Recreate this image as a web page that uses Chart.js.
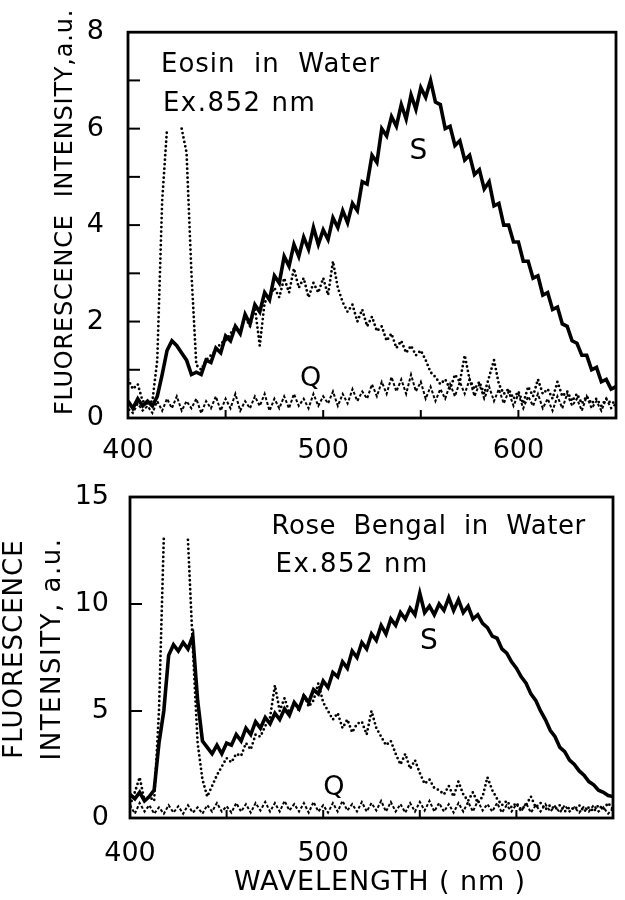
<!DOCTYPE html>
<html>
<head>
<meta charset="utf-8">
<script src="https://cdn.jsdelivr.net/npm/chart.js@4.4.0/dist/chart.umd.min.js"></script>
<style>
  html, body { margin: 0; padding: 0; background: #fff; }
  #wrap { position: relative; width: 625px; height: 900px; }
  canvas { position: absolute; left: 0; }
  #eosin { top: 0; }
  #rose { top: 460px; }
</style>
</head>
<body>
<div id="wrap">
  <canvas id="eosin" width="625" height="460"></canvas>
  <canvas id="rose" width="625" height="440"></canvas>
</div>
<script>
const WL_START = 400;
const WL_STEP = 2.5;
const WL_COUNT = 101;
const WAVELENGTHS = Array.from({ length: WL_COUNT }, (_, i) => WL_START + i * WL_STEP);

// Eosin in water, Ex. 852 nm
const EOSIN_S = [
  0.35, 0.2, 0.4, 0.25, 0.35, 0.25, 0.45, 0.9, 1.4, 1.6,
  1.5, 1.35, 1.2, 0.9, 0.95, 0.9, 1.2, 1.15, 1.45, 1.35,
  1.7, 1.6, 1.9, 1.75, 2.15, 1.95, 2.35, 2.2, 2.6, 2.45,
  2.95, 2.8, 3.35, 3.15, 3.6, 3.35, 3.75, 3.5, 3.95, 3.6,
  3.9, 3.7, 4.15, 3.95, 4.3, 4.05, 4.45, 4.3, 4.9, 4.85,
  5.45, 5.3, 6.0, 5.85, 6.25, 6.05, 6.5, 6.2, 6.7, 6.4,
  6.85, 6.65, 7.0, 6.55, 6.5, 6.0, 6.05, 5.65, 5.75, 5.35,
  5.45, 5.05, 5.15, 4.75, 4.9, 4.4, 4.45, 4.0, 4.0, 3.65,
  3.65, 3.25, 3.25, 2.9, 2.95, 2.55, 2.6, 2.25, 2.3, 1.95,
  1.9, 1.6, 1.55, 1.3, 1.3, 1.0, 1.05, 0.75, 0.8, 0.6,
  0.65
];
const EOSIN_DOT = [
  0.8, 0.6, 0.7, 0.35, 0.3, 0.35, 1.2, 4.5, 6.0, null,
  null, 6.0, 5.5, 3.0, 1.1, 1.0, 1.2, 1.3, 1.4, 1.55,
  1.6, 1.75, 1.9, 1.8, 2.1, 1.9, 2.3, 1.5, 2.4, 2.5,
  2.7, 2.5, 2.9, 2.6, 3.1, 2.7, 2.9, 2.5, 2.8, 2.6,
  2.9, 2.55, 3.25, 2.7, 2.4, 2.2, 2.35, 2.0, 2.25, 1.9,
  2.1, 1.8, 1.9, 1.6, 1.75, 1.45, 1.6, 1.35, 1.5, 1.3,
  1.4, 1.2, 0.95, 0.85, 0.7, 0.8, 0.6, 0.9, 0.75, 1.3,
  0.8, 0.6, 0.75, 0.5, 0.85, 1.2, 0.7, 0.5, 0.6, 0.4,
  0.55, 0.3, 0.65, 0.45, 0.8, 0.5, 0.6, 0.4, 0.75, 0.45,
  0.55, 0.35, 0.5, 0.3, 0.45, 0.3, 0.4, 0.25, 0.4, 0.3,
  0.35
];
const EOSIN_Q = [
  0.2, 0.1, 0.3, 0.15, 0.25, 0.1, 0.35, 0.15, 0.4, 0.2,
  0.45, 0.15, 0.35, 0.2, 0.4, 0.1, 0.35, 0.2, 0.45, 0.15,
  0.4, 0.2, 0.5, 0.15, 0.35, 0.2, 0.45, 0.25, 0.5, 0.15,
  0.4, 0.2, 0.45, 0.2, 0.5, 0.25, 0.4, 0.2, 0.5, 0.25,
  0.45, 0.3, 0.55, 0.25, 0.5, 0.3, 0.6, 0.35, 0.55, 0.4,
  0.7, 0.45, 0.75, 0.5, 0.85, 0.55, 0.8, 0.5, 0.9, 0.55,
  0.75, 0.4, 0.65, 0.35, 0.6, 0.4, 0.7, 0.45, 0.75, 0.5,
  0.8, 0.45, 0.7, 0.4, 0.65, 0.35, 0.6, 0.3, 0.55, 0.25,
  0.5, 0.2, 0.45, 0.25, 0.5, 0.2, 0.4, 0.15, 0.45, 0.2,
  0.5, 0.25, 0.4, 0.15, 0.45, 0.2, 0.35, 0.15, 0.4, 0.2,
  0.3
];

// Rose Bengal in water, Ex. 852 nm
const ROSE_S = [
  1.1, 0.9, 1.2, 0.8, 1.0, 1.3, 3.5, 5.0, 7.6, 8.1,
  7.8, 8.2, 7.9, 8.5, 5.5, 3.6, 3.3, 3.0, 3.4, 3.0,
  3.5, 3.4, 3.9, 3.6, 4.2, 3.9, 4.5, 4.2, 4.7, 4.4,
  4.9, 4.6, 5.1, 4.8, 5.4, 5.1, 5.7, 5.4, 6.0, 5.8,
  6.4, 6.1, 6.8, 6.6, 7.3, 7.0, 7.8, 7.5, 8.2, 7.9,
  8.6, 8.3, 9.0, 8.6, 9.3, 9.0, 9.6, 9.3, 9.8, 9.5,
  10.5, 9.6, 9.9, 9.5, 10.0, 9.7, 10.3, 9.7, 10.2, 9.6,
  9.9, 9.3, 9.5, 9.1, 8.9, 8.5, 8.4, 7.9, 7.7, 7.3,
  7.0, 6.6, 6.3, 5.8, 5.5, 5.0, 4.6, 4.1, 3.8, 3.3,
  3.1, 2.7, 2.5, 2.2, 2.0, 1.7, 1.55, 1.3, 1.2, 1.05,
  1.0
];
const ROSE_DOT = [
  0.6, 1.2, 1.9, 0.8, 1.0, 0.8, 5.0, 13.1, null, null,
  null, null, 13.0, 8.0, 3.5, 1.8, 1.0, 1.5, 2.0, 2.4,
  2.8, 2.6, 3.0, 2.9, 3.5, 3.2, 3.9, 3.8, 4.3, 4.7,
  6.2, 5.0, 5.6, 4.9, 5.4, 5.0, 5.8, 5.2, 5.5, 6.3,
  5.4, 5.0, 4.6, 4.9, 4.2, 4.6, 4.0, 4.4, 4.5, 3.9,
  5.0, 4.2, 3.8, 3.4, 3.6, 3.0, 2.5, 3.0, 2.3, 2.7,
  2.1, 1.6, 1.8, 1.4, 1.3, 1.1, 1.5, 1.0, 1.7, 1.1,
  0.8, 1.2, 0.7, 1.0, 1.9, 1.3, 0.9, 0.6, 0.8, 0.5,
  0.7, 0.4, 0.6, 1.0, 0.5, 0.7, 0.4, 0.6, 0.4, 0.6,
  0.3, 0.5, 0.4, 0.6, 0.3, 0.5, 0.3, 0.6, 0.4, 0.7,
  0.4
];
const ROSE_Q = [
  0.6, 0.2, 0.7, 0.3, 0.6, 0.2, 0.5, 0.2, 0.6, 0.25,
  0.55, 0.2, 0.6, 0.25, 0.5, 0.2, 0.6, 0.3, 0.7, 0.3,
  0.55, 0.25, 0.7, 0.3, 0.65, 0.25, 0.7, 0.35, 0.75, 0.3,
  0.7, 0.3, 0.8, 0.35, 0.65, 0.3, 0.7, 0.25, 0.75, 0.3,
  0.6, 0.25, 0.7, 0.3, 0.8, 0.35, 0.65, 0.3, 0.75, 0.3,
  0.7, 0.35, 0.8, 0.3, 0.75, 0.3, 0.65, 0.25, 0.7, 0.3,
  0.75, 0.35, 0.8, 0.3, 0.7, 0.3, 0.65, 0.25, 0.7, 0.3,
  0.75, 0.3, 0.8, 0.35, 0.65, 0.3, 0.7, 0.25, 0.6, 0.3,
  0.65, 0.3, 0.7, 0.25, 0.6, 0.3, 0.65, 0.3, 0.55, 0.25,
  0.6, 0.3, 0.5, 0.25, 0.55, 0.3, 0.6, 0.3, 0.5, 0.2,
  0.45
];

const X_LABELS = [400, 500, 600];
const EOSIN_Y_LABELS = [0, 2, 4, 6, 8];
const ROSE_Y_LABELS = [0, 5, 10, 15];

const FONT = 'DejaVu Sans';

function points(values) {
  return values.map((v, i) => ({ x: WAVELENGTHS[i], y: v }));
}

function solid(values) {
  return {
    data: points(values), borderColor: '#000', borderWidth: 3.6, pointRadius: 0,
    tension: 0, borderJoinStyle: 'miter'
  };
}

function dotted(values) {
  return {
    data: points(values), borderColor: '#000', borderWidth: 2.8, pointRadius: 0,
    borderDash: [0, 4.5], borderCapStyle: 'round', spanGaps: false
  };
}

function dashed(values) {
  return { data: points(values), borderColor: '#000', borderWidth: 2, pointRadius: 0, borderDash: [3, 2] };
}

// box around the plot and inward tick marks
const framePlugin = {
  id: 'frame',
  afterDatasetsDraw(chart) {
    const { ctx, chartArea: a, scales } = chart;
    ctx.save();
    ctx.strokeStyle = '#000';
    ctx.lineWidth = 2.8;
    ctx.strokeRect(a.left, a.top, a.right - a.left, a.bottom - a.top);
    ctx.lineWidth = 2;
    scales.y.ticks.forEach(t => {
      if (t.value === scales.y.min || t.value === scales.y.max) return;
      const py = scales.y.getPixelForValue(t.value);
      ctx.beginPath();
      ctx.moveTo(a.left, py);
      ctx.lineTo(a.left + 12, py);
      ctx.stroke();
    });
    scales.x.ticks.forEach(t => {
      if (t.value === scales.x.min || t.value === scales.x.max) return;
      const px = scales.x.getPixelForValue(t.value);
      ctx.beginPath();
      ctx.moveTo(px, a.bottom);
      ctx.lineTo(px, a.bottom - 8);
      ctx.stroke();
    });
    ctx.restore();
  }
};

// free text: sample names, curve letters and axis titles
const notesPlugin = {
  id: 'notes',
  afterDraw(chart, args, opts) {
    const { ctx, scales } = chart;
    (opts.items || []).forEach(n => {
      const x = n.wl != null ? scales.x.getPixelForValue(n.wl) : n.px;
      const y = n.val != null ? scales.y.getPixelForValue(n.val) : n.py;
      ctx.save();
      ctx.fillStyle = '#000';
      ctx.font = `${n.size || 26}px "${FONT}"`;
      ctx.letterSpacing = `${n.spacing || 0}px`;
      ctx.textAlign = n.align || 'left';
      ctx.textBaseline = 'middle';
      ctx.translate(x, y);
      if (n.rotate) ctx.rotate(-Math.PI / 2);
      ctx.fillText(n.text, 0, 0);
      ctx.restore();
    });
  }
};

function makeChart(canvasId, cfg) {
  return new Chart(document.getElementById(canvasId), {
    type: 'line',
    data: {
      datasets: [solid(cfg.s), dotted(cfg.dot), dashed(cfg.q)]
    },
    options: {
      responsive: false,
      animation: false,
      devicePixelRatio: 1,
      layout: { padding: { top: cfg.padTop, right: cfg.padRight, left: 0, bottom: 0 } },
      plugins: {
        legend: { display: false },
        tooltip: { enabled: false },
        notes: { items: cfg.notes }
      },
      scales: {
        x: {
          type: 'linear',
          min: 400,
          max: 650,
          grid: { display: false },
          border: { display: false },
          ticks: {
            stepSize: 50,
            padding: cfg.xPad,
            color: '#000',
            font: { family: FONT, size: 27 },
            maxRotation: 0,
            autoSkip: false,
            callback: v => X_LABELS.includes(v) ? String(v) : ''
          },
          afterFit: s => { s.height = cfg.xHeight; }
        },
        y: {
          min: 0,
          max: cfg.yMax,
          grid: { display: false },
          border: { display: false },
          ticks: {
            stepSize: cfg.yStep,
            padding: cfg.yPad,
            color: '#000',
            font: { family: FONT, size: 27 },
            autoSkip: false,
            callback: v => cfg.yLabels.includes(v) ? String(v) : ''
          },
          afterFit: s => { s.width = cfg.yWidth; }
        }
      }
    },
    plugins: [framePlugin, notesPlugin]
  });
}

makeChart('eosin', {
  s: EOSIN_S, dot: EOSIN_DOT, q: EOSIN_Q,
  yMax: 8, yStep: 1, yLabels: EOSIN_Y_LABELS,
  padTop: 27, padRight: 8, xHeight: 42, yWidth: 128, xPad: 9, yPad: 16,
  notes: [
    { text: 'Eosin  in  Water', wl: 416.9, val: 7.32, spacing: 1 },
    { text: 'Ex.852 nm', wl: 417.9, val: 6.51, spacing: 1.5 },
    { text: 'S', wl: 548.8, val: 5.52, size: 28, align: 'center' },
    { text: 'Q', wl: 493.6, val: 0.8, size: 27, align: 'center' },
    { text: 'FLUORESCENCE  INTENSITY,a.u.', px: 66, py: 212, size: 24, spacing: 0.8, rotate: true, align: 'center' }
  ]
});

makeChart('rose', {
  s: ROSE_S, dot: ROSE_DOT, q: ROSE_Q,
  yMax: 15, yStep: 5, yLabels: ROSE_Y_LABELS,
  padTop: 37, padRight: 7, xHeight: 82, yWidth: 130, xPad: 12, yPad: 13,
  notes: [
    { text: 'Rose  Bengal  in  Water', wl: 473.3, val: 13.6, spacing: 0.5 },
    { text: 'Ex.852 nm', wl: 475.3, val: 11.82, spacing: 1.5 },
    { text: 'S', wl: 554.7, val: 8.22, size: 28, align: 'center' },
    { text: 'Q', wl: 505.5, val: 1.4, size: 27, align: 'center' },
    { text: 'FLUORESCENCE', px: 15, py: 189, spacing: 1, rotate: true, align: 'center' },
    { text: 'INTENSITY, a.u.', px: 53, py: 189, spacing: 1.5, rotate: true, align: 'center' },
    { text: 'WAVELENGTH ( nm )', px: 380, py: 423, size: 27, spacing: 0.9, align: 'center' }
  ]
});
</script>
</body>
</html>
